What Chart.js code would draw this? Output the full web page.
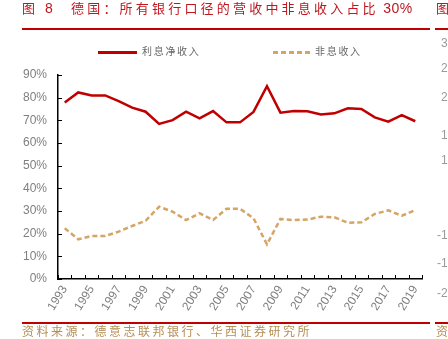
<!DOCTYPE html>
<html>
<head>
<meta charset="utf-8">
<script src="https://cdn.jsdelivr.net/npm/chart.js@4.4.0/dist/chart.umd.min.js"></script>
<style>
  html, body { margin: 0; padding: 0; background: #fff; }
  #wrap { position: relative; width: 448px; height: 339px; overflow: hidden;
          font-family: "Liberation Sans", "Noto Sans CJK SC", sans-serif; }
  #chart { position: absolute; left: 0; top: 0; }
  .abs { position: absolute; white-space: nowrap; }
  .title { top: 0; font-size: 13px; line-height: 17px; color: #c0161e; letter-spacing: 3.2px; }
  .title .num { letter-spacing: 0.5px; font-size: 14px; }
  .rule { height: 2px; background: #c00000; }
  .legend-text { top: 46px; font-size: 10px; line-height: 12px; color: #666; letter-spacing: 1.7px; }
  .source { top: 325px; font-size: 12px; line-height: 14px; color: #b48f55; letter-spacing: 2.5px; }
  .side-tick { font-size: 12px; line-height: 12px; color: #9a9a9a; right: -17px; text-align: right; }
</style>
</head>
<body>
<div id="wrap">
  <canvas id="chart" width="448" height="339"></canvas>

  <!-- header -->
  <div class="abs title" style="left:22px;">图 <span class="num">8</span></div>
  <div class="abs title" style="left:71px;">德国：所有银行口径的营收中非息收入占比<span class="num"> 30%</span></div>
  <div class="abs rule" style="left:22px; top:28px; width:408px;"></div>

  <!-- legend -->
  <div class="abs" style="left:98px; top:51px; width:39px; height:2.5px; background:#c00000;"></div>
  <div class="abs legend-text" style="left:142px;">利息净收入</div>
  <div class="abs" style="left:273px; top:51px; width:39px; height:2.5px;
       background:repeating-linear-gradient(90deg,#d4a566 0 5px,transparent 5px 8px);"></div>
  <div class="abs legend-text" style="left:315px;">非息收入</div>

  <!-- footer -->
  <div class="abs rule" style="left:22px; top:322px; width:408px;"></div>
  <div class="abs source" style="left:22px;">资料来源：德意志联邦银行、华西证券研究所</div>

  <!-- edge of the next figure -->
  <div class="abs title" style="left:436px;">图</div>
  <div class="abs rule" style="left:435px; top:28px; width:20px;"></div>
  <div class="abs rule" style="left:435px; top:322px; width:20px;"></div>
  <div class="abs source" style="left:436px;">资</div>
  <div class="abs side-tick" style="top:37px;">30%</div>
  <div class="abs side-tick" style="top:62px;">25%</div>
  <div class="abs side-tick" style="top:91px;">20%</div>
  <div class="abs side-tick" style="top:129px;">15%</div>
  <div class="abs side-tick" style="top:154px;">10%</div>
  <div class="abs side-tick" style="top:229px;">-10%</div>
  <div class="abs side-tick" style="top:257px;">-15%</div>
  <div class="abs side-tick" style="top:287px;">-20%</div>
</div>

<script>
// ─── Data ────────────────────────────────────────────────────────────────────
const years = ['1993','1994','1995','1996','1997','1998','1999','2000','2001','2002',
               '2003','2004','2005','2006','2007','2008','2009','2010','2011','2012',
               '2013','2014','2015','2016','2017','2018','2019'];

// share of operating income, %
const netInterest = [77.9, 82.3, 81.0, 81.0, 78.5, 75.6, 73.8, 68.4, 70.1, 73.8,
                     70.9, 74.1, 69.1, 69.1, 73.7, 85.1, 73.4, 74.1, 74.0, 72.6,
                     73.1, 75.3, 75.0, 71.3, 69.4, 72.3, 69.6];
const nonInterest = [22.4, 17.5, 19.0, 19.0, 20.9, 23.4, 25.7, 31.9, 29.7, 26.0,
                     29.0, 26.0, 31.0, 31.0, 26.8, 15.3, 26.5, 26.0, 26.2, 27.5,
                     27.2, 24.8, 25.0, 28.7, 30.3, 27.9, 30.4];

const yMin = 0, yMax = 90, yStep = 10;

const RED = '#c00000';
const TAN = '#d4a566';
const TICK_GREY = '#7f7f7f';
const tickFont = { family: '"Liberation Sans", Arial, sans-serif', size: 12 };

// ─── Inward tick marks on both axes ─────────────────────────────────────────
const innerTicks = {
  id: 'innerTicks',
  afterDraw(chart) {
    const { ctx, chartArea, scales: { x, y } } = chart;
    ctx.save();
    ctx.strokeStyle = '#000';
    ctx.lineWidth = 1;
    ctx.beginPath();
    y.ticks.forEach((t, i) => {
      const py = Math.round(y.getPixelForTick(i)) + 0.5;
      ctx.moveTo(chartArea.left, py);
      ctx.lineTo(chartArea.left + 4, py);
    });
    for (let i = 0; i <= years.length; i++) {
      const px = Math.round(x.getPixelForValue(i - 0.5)) + 0.5;
      ctx.moveTo(px, chartArea.bottom);
      ctx.lineTo(px, chartArea.bottom - 4);
    }
    ctx.stroke();
    ctx.restore();
  }
};

new Chart(document.getElementById('chart'), {
  type: 'line',
  data: {
    labels: years,
    datasets: [
      { label: '利息净收入', data: netInterest, borderColor: RED, borderWidth: 2.5,
        pointRadius: 0, tension: 0, fill: false },
      { label: '非息收入', data: nonInterest, borderColor: TAN, borderWidth: 2.5,
        borderDash: [5, 3], pointRadius: 0, tension: 0, fill: false }
    ]
  },
  options: {
    responsive: false,
    animation: false,
    layout: { padding: { top: 75, right: 26, bottom: 20, left: 0 } },
    plugins: { legend: { display: false }, tooltip: { enabled: false } },
    scales: {
      x: {
        offset: true,
        grid: { display: true, drawOnChartArea: false, drawTicks: false },
        border: { display: true, color: '#000', width: 1.5 },
        ticks: {
          autoSkip: false, maxRotation: 58, minRotation: 58, padding: 4,
          color: TICK_GREY, font: tickFont,
          callback: (v, i) => (i % 2 === 0 ? years[i] : '')
        },
        afterFit: s => { s.height = 40; }
      },
      y: {
        min: yMin, max: yMax,
        grid: { display: true, drawOnChartArea: false, drawTicks: false },
        border: { display: true, color: '#000', width: 1.5 },
        ticks: { stepSize: yStep, padding: 11, color: TICK_GREY, font: tickFont,
                 callback: v => v + '%' },
        afterFit: s => { s.width = 58; }
      }
    }
  },
  plugins: [innerTicks]
});
</script>
</body>
</html>
